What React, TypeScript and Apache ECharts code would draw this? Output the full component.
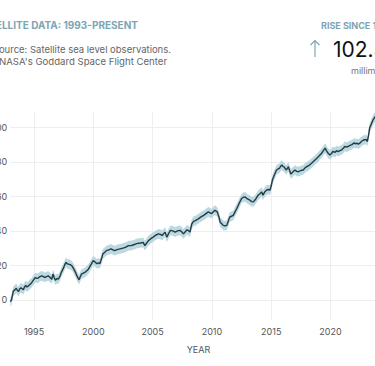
import React, { useEffect, useRef } from "react";
import * as echarts from "echarts";

const years = [
  1993.0, 1993.1, 1993.25, 1993.4, 1993.5, 1993.6, 1993.7, 1993.8, 1993.9, 1994.0,
  1994.1, 1994.2, 1994.3, 1994.4, 1994.5, 1994.65, 1994.8, 1994.95, 1995.1, 1995.25,
  1995.35, 1995.5, 1995.65, 1995.8, 1995.9, 1996.05, 1996.2, 1996.35, 1996.5, 1996.6,
  1996.7, 1996.8, 1996.95, 1997.05, 1997.2, 1997.3, 1997.45, 1997.6, 1997.7, 1997.8,
  1997.9, 1998.05, 1998.2, 1998.35, 1998.5, 1998.65, 1998.8, 1998.9, 1999.0, 1999.15,
  1999.3, 1999.45, 1999.6, 1999.8, 2000.0, 2000.15, 2000.3, 2000.45, 2000.55, 2000.7,
  2000.8, 2000.95, 2001.1, 2001.3, 2001.5, 2001.65, 2001.8, 2002.0, 2002.25, 2002.5,
  2002.7, 2002.85, 2002.95, 2003.2, 2003.4, 2003.6, 2003.8, 2004.0, 2004.2, 2004.35,
  2004.5, 2004.65, 2004.85, 2005.05, 2005.25, 2005.5, 2005.65, 2005.8, 2006.05, 2006.2,
  2006.35, 2006.5, 2006.7, 2006.9, 2007.1, 2007.3, 2007.45, 2007.6, 2007.75, 2007.9,
  2008.05, 2008.15, 2008.3, 2008.45, 2008.6, 2008.85, 2009.05, 2009.3, 2009.5, 2009.7,
  2009.85, 2009.98, 2010.1, 2010.25, 2010.35, 2010.45, 2010.6, 2010.7, 2010.85, 2010.95,
  2011.1, 2011.25, 2011.4, 2011.5, 2011.65, 2011.8, 2011.95, 2012.1, 2012.3, 2012.5,
  2012.65, 2012.8, 2013.0, 2013.2, 2013.35, 2013.5, 2013.7, 2013.9, 2014.05, 2014.2,
  2014.3, 2014.45, 2014.6, 2014.75, 2014.9, 2015.0, 2015.1, 2015.3, 2015.45, 2015.6,
  2015.7, 2015.8, 2015.9, 2016.0, 2016.1, 2016.25, 2016.35, 2016.45, 2016.55, 2016.65,
  2016.8, 2017.0, 2017.15, 2017.3, 2017.5, 2017.7, 2017.85, 2018.0, 2018.2, 2018.4,
  2018.6, 2018.85, 2019.05, 2019.25, 2019.4, 2019.55, 2019.65, 2019.8, 2019.95, 2020.1,
  2020.2, 2020.4, 2020.5, 2020.65, 2020.8, 2020.95, 2021.1, 2021.2, 2021.35, 2021.5,
  2021.65, 2021.8, 2022.0, 2022.1, 2022.25, 2022.35, 2022.5, 2022.6, 2022.75, 2022.9,
  2023.0, 2023.1, 2023.2, 2023.3, 2023.45, 2023.6, 2023.75, 2023.9, 2024.05, 2024.2,
  2024.35,
];

const seaLevel = [
  -1, 0, 5, 6, 6.8, 5.5, 5, 6.5, 7, 6.5,
  6, 7.5, 8.5, 7.5, 8, 9, 10, 11.5, 13, 12.5,
  12.7, 13.5, 14, 13.5, 13, 13.5, 14, 13, 12, 15,
  13, 11.5, 12.5, 12, 14, 16, 18, 20.5, 21.8, 21,
  20.8, 20.5, 19.8, 18, 16, 13.5, 11.7, 13.5, 15, 15.5,
  16, 17, 18, 20.5, 22.8, 22, 21, 21.5, 21, 24,
  26.7, 27.5, 28.6, 29, 29.6, 29, 28.6, 29.2, 29.6, 30,
  30.5, 31, 31.5, 31.5, 32, 32.5, 32.9, 33, 33.4, 31.5,
  33, 34.4, 35.5, 36.4, 37.5, 38.3, 38, 37.4, 39.3, 36.4,
  38.5, 40.3, 40, 39.3, 40, 40.3, 39.5, 38.3, 39.5, 40.7,
  40, 39.3, 44, 45.5, 46, 47, 48, 49, 50, 51,
  50.5, 50, 51, 52, 51.5, 51, 48, 45, 44, 43.2,
  43, 43.2, 46, 48, 48.5, 49, 51, 53, 56, 58.8,
  59.5, 59.7, 58.5, 57.8, 57, 56.8, 58.5, 60.7, 61.5, 62.6,
  60.7, 62.5, 63.6, 64, 63.6, 66, 69.5, 73, 75.3, 76,
  76.3, 77.5, 78.2, 77.2, 77, 75.3, 76, 77.2, 75, 73,
  74, 75.3, 74.5, 74.3, 75, 75.3, 76.5, 77.2, 78, 79.2,
  80.5, 82.1, 83.5, 85, 86.5, 88, 86.5, 85, 84, 85,
  86, 85.5, 86.5, 86, 86.5, 87, 88, 89, 88.5, 89,
  89.5, 90, 91, 90.5, 90.8, 90.3, 91, 91.8, 92.5, 92.8,
  93, 91.8, 95, 99.6, 102, 104.5, 106, 107, 106, 105.5,
  105,
];

const bandHalfWidth = 2.8;
const xTickYears = [1995, 2000, 2005, 2010, 2015, 2020];
const yTickValues = [0, 20, 40, 60, 80, 100];

const titleText = "SATELLITE DATA: 1993-PRESENT";
const sourceText = "Data source: Satellite sea level observations.";
const creditText = "Credit: NASA's Goddard Space Flight Center";
const riseLabel = "RISE SINCE 1993";
const riseValue = "102.5";
const riseUnit = "millimeters";
const xAxisName = "YEAR";

const FONT = "Inter, 'Noto Sans', sans-serif";
const TEAL = "#7ea5b1";

export default function App() {
  const ref = useRef<HTMLDivElement>(null);

  useEffect(() => {
    if (!ref.current) return;
    const chart = echarts.init(ref.current, undefined, { renderer: "svg" });

    const main = years.map((y, i) => [y, seaLevel[i]]);

    chart.setOption({
      animation: false,
      backgroundColor: "#ffffff",
      textStyle: { fontFamily: FONT },
      grid: {
        left: 10.3,
        right: -14.8,
        top: 111.8,
        bottom: 45.3,
        containLabel: false,
        outerBoundsMode: "none",
      },
      xAxis: {
        type: "value",
        min: 1993,
        max: 2025,
        axisLine: { show: false },
        axisTick: { show: false, customValues: xTickYears },
        axisLabel: {
          customValues: xTickYears,
          formatter: (v: number) => String(v),
          color: "#555",
          fontSize: 9,
          fontFamily: FONT,
          margin: 6,
        },
        splitLine: { show: true, lineStyle: { color: "#eeeeee", width: 1 } },
      },
      yAxis: {
        type: "value",
        min: -12,
        max: 109,
        axisLine: { show: false },
        axisTick: { show: false, customValues: yTickValues },
        axisLabel: {
          customValues: yTickValues,
          color: "#555",
          fontSize: 9,
          fontFamily: FONT,
          margin: 3,
        },
        splitLine: { show: true, lineStyle: { color: "#eeeeee", width: 1 } },
      },
      series: [
        {
          type: "custom",
          data: [[years[0], seaLevel[0]]],
          encode: { x: 0, y: 1 },
          silent: true,
          renderItem: (_params: any, api: any) => {
            const upper = years.map((y, i) =>
              api.coord([y, seaLevel[i] + bandHalfWidth])
            );
            const lower = years
              .map((y, i) => api.coord([y, seaLevel[i] - bandHalfWidth]))
              .reverse();
            return {
              type: "polygon",
              shape: { points: upper.concat(lower) },
              style: { fill: "#bcd8e0" },
            };
          },
        },
        {
          type: "line",
          data: main,
          symbol: "none",
          lineStyle: { color: "#263b41", width: 1.4 },
          silent: true,
        },
      ],
      graphic: [
        {
          type: "text",
          x: 138,
          y: 25,
          style: {
            text: titleText,
            fill: TEAL,
            fontFamily: FONT,
            fontSize: 10,
            fontWeight: "bold",
            textAlign: "right",
            textVerticalAlign: "middle",
          },
        },
        {
          type: "text",
          x: 171,
          y: 49,
          style: {
            text: sourceText,
            fill: "#666",
            fontFamily: FONT,
            fontSize: 9.5,
            textAlign: "right",
            textVerticalAlign: "middle",
          },
        },
        {
          type: "text",
          x: 167,
          y: 61,
          style: {
            text: creditText,
            fill: "#666",
            fontFamily: FONT,
            fontSize: 9.6,
            textAlign: "right",
            textVerticalAlign: "middle",
          },
        },
        {
          type: "text",
          x: 321,
          y: 25,
          style: {
            text: riseLabel,
            fill: TEAL,
            fontFamily: FONT,
            fontSize: 9,
            fontWeight: "bold",
            textAlign: "left",
            textVerticalAlign: "middle",
          },
        },
        {
          type: "line",
          shape: { x1: 315, y1: 40.5, x2: 315, y2: 57 },
          style: { stroke: TEAL, lineWidth: 1.2 },
        },
        {
          type: "polyline",
          shape: { points: [[310.5, 45], [315, 40.5], [319.5, 45]] },
          style: { stroke: TEAL, lineWidth: 1.2, fill: "none" },
        },
        {
          type: "text",
          x: 333,
          y: 49.5,
          style: {
            text: riseValue,
            fill: "#111",
            fontFamily: FONT,
            fontSize: 21,
            textAlign: "left",
            textVerticalAlign: "middle",
          },
        },
        {
          type: "text",
          x: 351,
          y: 70,
          style: {
            text: riseUnit,
            fill: "#777",
            fontFamily: FONT,
            fontSize: 9,
            textAlign: "left",
            textVerticalAlign: "middle",
          },
        },
        {
          type: "text",
          x: 198.5,
          y: 349,
          style: {
            text: xAxisName,
            fill: "#555",
            fontFamily: FONT,
            fontSize: 9,
            textAlign: "center",
            textVerticalAlign: "middle",
          },
        },
      ],
    });

    return () => chart.dispose();
  }, []);

  return (
    <div
      ref={ref}
      style={{ position: "fixed", left: 0, top: 0, width: 375, height: 366 }}
    />
  );
}
